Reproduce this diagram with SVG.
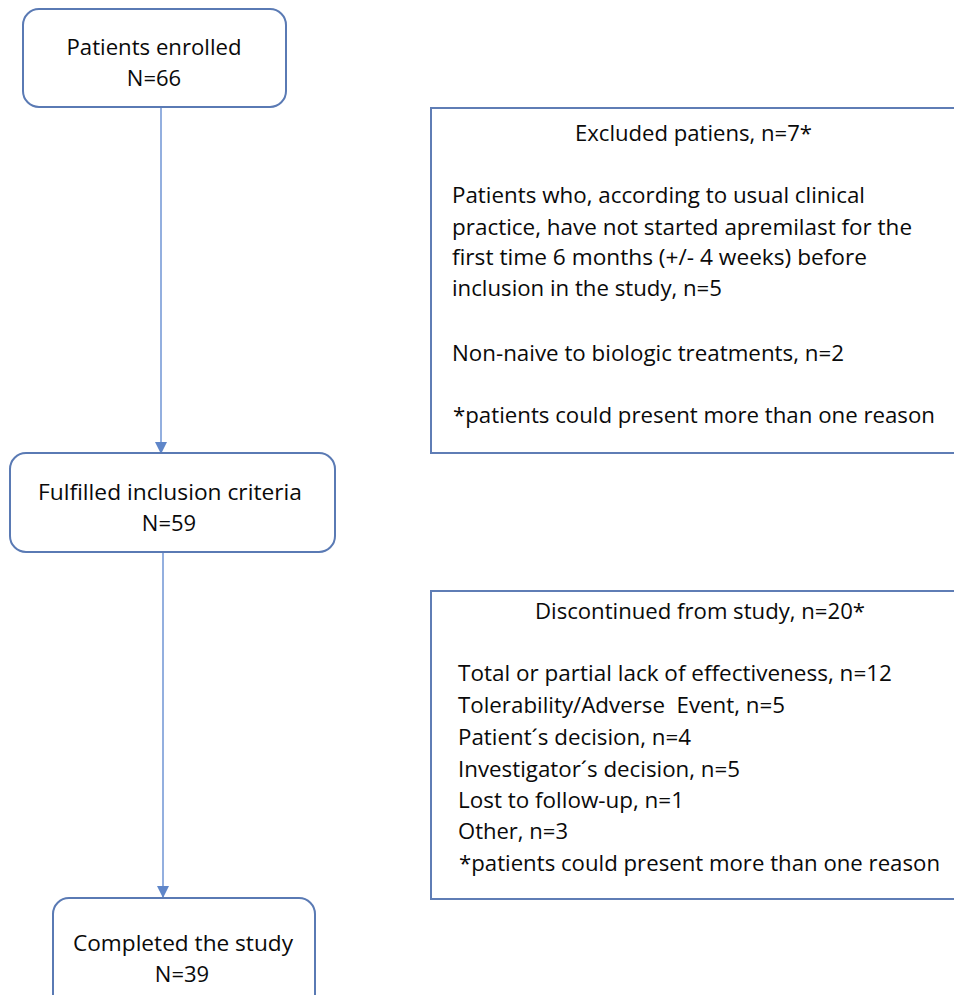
<svg xmlns="http://www.w3.org/2000/svg" width="954" height="995" viewBox="0 0 954 995">
<style>
.node{fill:#fff;stroke:#5a7ab4;stroke-width:2}
.side{fill:#fff;stroke:#5f7db5;stroke-width:2}
.conn{stroke:#6f95d4;stroke-width:1.5;fill:none}
text{font-family:"Open Sans","Noto Sans",sans-serif;font-size:21px;fill:#0a0a0a}
.n{font-size:22px}
.c{text-anchor:middle}
</style>
<defs>
<marker id="arr" markerWidth="12" markerHeight="12" refX="12" refY="6" orient="auto" markerUnits="userSpaceOnUse">
<path d="M0,0 L12,6 L0,12 Z" fill="#5f86c9"/>
</marker>
</defs>
<rect width="954" height="995" fill="#fff"/>
<g id="connectors">
<line class="conn" x1="161" y1="107" x2="161" y2="454" marker-end="url(#arr)"/>
<line class="conn" x1="163" y1="552" x2="163" y2="898" marker-end="url(#arr)"/>
</g>
<g id="enrolled">
<rect class="node" x="23" y="9" width="263" height="98" rx="16"/>
<text class="c n" x="154" y="55" textLength="175" lengthAdjust="spacingAndGlyphs">Patients enrolled</text>
<text class="c n" x="154" y="86">N=66</text>
</g>
<g id="fulfilled">
<rect class="node" x="10" y="453" width="325" height="99" rx="16"/>
<text class="c n" x="170" y="500" textLength="264" lengthAdjust="spacingAndGlyphs">Fulfilled inclusion criteria</text>
<text class="c n" x="169" y="531">N=59</text>
</g>
<g id="completed">
<rect class="node" x="53" y="898" width="262" height="120" rx="16"/>
<text class="c n" x="183" y="951" textLength="220" lengthAdjust="spacingAndGlyphs">Completed the study</text>
<text class="c n" x="182" y="982">N=39</text>
</g>
<g id="excluded">
<rect class="side" x="431" y="108" width="540" height="345"/>
<text x="575" y="141" textLength="237" lengthAdjust="spacingAndGlyphs">Excluded patiens, n=7*</text>
<text x="452" y="203" textLength="413" lengthAdjust="spacingAndGlyphs">Patients who, according to usual clinical</text>
<text x="452" y="235" textLength="460" lengthAdjust="spacingAndGlyphs">practice, have not started apremilast for the</text>
<text x="452" y="265" textLength="415" lengthAdjust="spacingAndGlyphs">first time 6 months (+/- 4 weeks) before</text>
<text x="452" y="296" textLength="270" lengthAdjust="spacingAndGlyphs">inclusion in the study, n=5</text>
<text x="452" y="361" textLength="392" lengthAdjust="spacingAndGlyphs">Non-naive to biologic treatments, n=2</text>
<text x="453" y="423" textLength="482" lengthAdjust="spacingAndGlyphs">*patients could present more than one reason</text>
</g>
<g id="discontinued">
<rect class="side" x="431" y="591" width="540" height="308"/>
<text x="535" y="619" textLength="330" lengthAdjust="spacingAndGlyphs">Discontinued from study, n=20*</text>
<text x="458" y="681" textLength="434" lengthAdjust="spacingAndGlyphs">Total or partial lack of effectiveness, n=12</text>
<text x="458" y="713" textLength="327" lengthAdjust="spacingAndGlyphs" xml:space="preserve">Tolerability/Adverse  Event, n=5</text>
<text x="458" y="745" textLength="233" lengthAdjust="spacingAndGlyphs">Patient´s decision, n=4</text>
<text x="458" y="777" textLength="282" lengthAdjust="spacingAndGlyphs">Investigator´s decision, n=5</text>
<text x="458" y="808" textLength="226" lengthAdjust="spacingAndGlyphs">Lost to follow-up, n=1</text>
<text x="458" y="839" textLength="110" lengthAdjust="spacingAndGlyphs">Other, n=3</text>
<text x="459" y="871" textLength="481" lengthAdjust="spacingAndGlyphs">*patients could present more than one reason</text>
</g>
</svg>
